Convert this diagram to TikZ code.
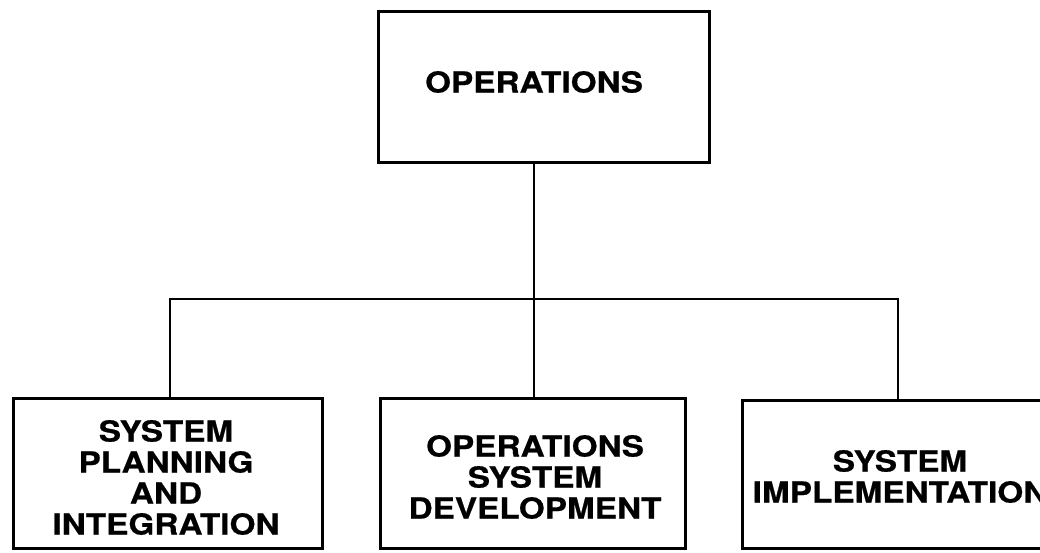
\documentclass[tikz,border=0pt]{standalone}
\usepackage{fontspec}
\setmainfont{TeX Gyre Heros}[FakeStretch=1.15,FakeBold=0.6]
\begin{document}
\begin{tikzpicture}[x=1pt,y=-1pt,
  box/.style={draw=black,line width=3pt,fill=white,rectangle,inner sep=0pt},
  lbl/.style={align=center,inner sep=0pt,font=\bfseries\fontsize{29}{31}\selectfont},
  conn/.style={draw=black,line width=2.8pt}]
\useasboundingbox (0,0) rectangle (1040,553);
\clip (0,0) rectangle (1040,553);
\fill[white] (0,0) rectangle (1040,553);
% boxes
\node[box,minimum width=331pt,minimum height=151pt] (top) at (543.5,87.5) {};
\node[box,minimum width=309pt,minimum height=150pt] (left) at (167.5,473) {};
\node[box,minimum width=305pt,minimum height=150pt] (mid) at (532.5,473) {};
\node[box,minimum width=310pt,minimum height=148pt] (right) at (897,474) {};
% texts
\node[lbl] (ttop) at (534,82) {OPERATIONS};
\node[lbl] (tleft) at (166,477.5) {SYSTEM\\PLANNING\\AND\\INTEGRATION};
\node[lbl] (tmid) at (535,477) {OPERATIONS\\SYSTEM\\DEVELOPMENT};
\node[lbl] (tright) at (900,476.5) {SYSTEM\\IMPLEMENTATION};
% connectors
\coordinate (bus) at (534,299);
\coordinate (busl) at (170,299);
\coordinate (busr) at (898,299);
\draw[conn] (top.south -| bus) -- (bus);
\draw[conn,line cap=rect] (busl) -- (busr);
\draw[conn] (busl) -- (busl |- left.north);
\draw[conn] (bus) -- (bus |- mid.north);
\draw[conn] (busr) -- (busr |- right.north);
\end{tikzpicture}
\end{document}
